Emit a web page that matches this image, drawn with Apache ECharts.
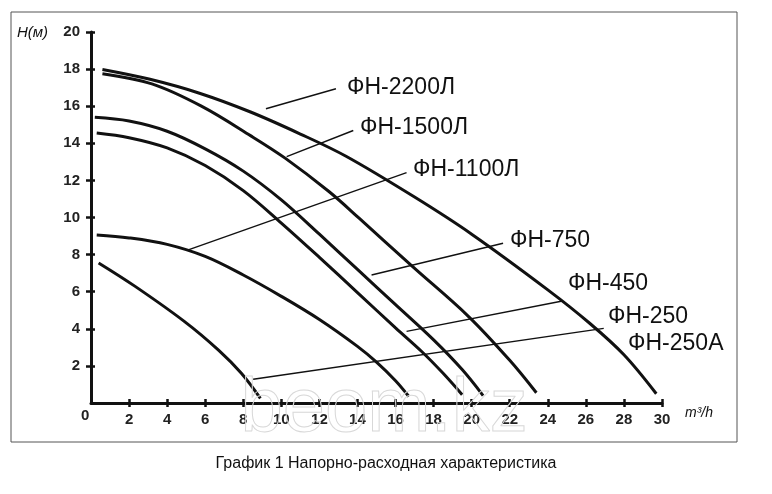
<!DOCTYPE html>
<html><head><meta charset="utf-8">
<script src="https://cdn.jsdelivr.net/npm/echarts@6/dist/echarts.min.js"></script>
<style>html,body{margin:0;padding:0;background:#fff}#c{width:772px;height:494px}</style>
</head><body><div id="c"></div>
<script>
// Pump curves: [flow m3/h, head m]
const curveFH2200 = [[0.6,17.98],[3.1,17.45],[5.7,16.7],[8.35,15.7],[11,14.5],[13.4,13.3],[17,11.1],[20,9.1],[24,6.1],[26.2,4.3],[28,2.6],[29.7,0.5]];
const curveFH1500 = [[0.6,17.75],[3.2,17.2],[5.8,16.0],[8.4,14.4],[10.2,13.2],[12.5,11.4],[14.1,9.95],[16.9,7.35],[19.8,4.7],[22,2.3],[23.4,0.55]];
const curveFH1100 = [[0.2,15.4],[2,15.2],[4,14.65],[6,13.7],[8,12.5],[10,10.95],[12,9.1],[14,7.2],[16,5.3],[18,3.4],[19.5,1.8],[20.6,0.4]];
const curveFH750 = [[0.3,14.55],[2,14.3],[4,13.75],[6,12.8],[8,11.45],[10,9.7],[12,7.85],[14,5.95],[16,4.05],[17.4,2.75],[18.5,1.6],[19.5,0.45]];
const curveFH450 = [[0.3,9.06],[2,8.9],[4,8.55],[6,7.9],[8,6.9],[10,5.75],[12,4.5],[14,3.05],[15,2.2],[16,1.2],[16.7,0.35]];
const curveFH250 = [[0.4,7.55],[2.3,6.3],[4.9,4.4],[6.7,2.85],[7.9,1.6],[8.9,0.25]];

// Leader lines (from curve to label), [flow, head]
const leader2200 = [[9.19,15.86],[12.87,16.94]];
const leader1500 = [[10.28,13.28],[13.78,14.69]];
const leader1100 = [[5.11,8.25],[16.58,12.42]];
const leader750 = [[14.74,6.9],[21.65,8.61]];
const leader450 = [[16.58,3.86],[24.77,5.5]];
const leader250 = [[8.52,1.28],[26.94,4.02]];

const labelNames = ['ФН-2200Л','ФН-1500Л','ФН-1100Л','ФН-750','ФН-450','ФН-250','ФН-250A'];
const xTicks = [0,2,4,6,8,10,12,14,16,18,20,22,24,26,28,30];
const yTicks = [0,2,4,6,8,10,12,14,16,18,20];

const chart = echarts.init(document.getElementById('c'), null, {renderer:'canvas'});
const F = '"Liberation Sans", Arial, sans-serif';
const curves = [curveFH2200,curveFH1500,curveFH1100,curveFH750,curveFH450,curveFH250];
const leaders = [leader2200,leader1500,leader1100,leader750,leader450,leader250];
const series = [];
curves.forEach((d,i)=>series.push({type:'line',name:labelNames[i],data:d,smooth:0.35,symbol:'none',
  lineStyle:{color:'#111',width:3},z:3,silent:true}));
leaders.forEach((d,i)=>series.push({type:'line',name:'leader'+i,data:d,symbol:'none',
  lineStyle:{color:'#111',width:1.4},z:2,silent:true}));

const grid = {left:91,top:32,width:571,height:371};
const labelText = (txt,x,y,size)=>({type:'text',left:x,top:y,style:{text:txt,font:'normal '+size+'px '+F,fill:'#111'}});
chart.setOption({
  animation:false,
  backgroundColor:'#fff',
  grid:grid,
  xAxis:[{type:'value',min:xTicks[0],max:xTicks[xTicks.length-1],interval:2,position:'bottom',
    axisLine:{show:true,onZero:false,lineStyle:{color:'#111',width:3}},
    axisTick:{show:true,inside:false,length:4,lineStyle:{color:'#111',width:2.5}},
    axisLabel:{show:true,margin:9,showMinLabel:false,color:'#222',fontFamily:F,fontSize:15,fontWeight:'bold'},
    splitLine:{show:false}},
   {type:'value',min:xTicks[0],max:xTicks[xTicks.length-1],interval:2,position:'bottom',
    axisLine:{show:false},axisTick:{show:true,inside:true,length:4,lineStyle:{color:'#111',width:2.5}},
    axisLabel:{show:false},splitLine:{show:false}}],
  yAxis:[{type:'value',min:yTicks[0],max:yTicks[yTicks.length-1],interval:2,position:'left',
    axisLine:{show:true,onZero:false,lineStyle:{color:'#111',width:3}},
    axisTick:{show:true,inside:false,length:5,lineStyle:{color:'#111',width:2.5}},
    axisLabel:{show:true,margin:11,showMinLabel:false,color:'#222',fontFamily:F,fontSize:15,fontWeight:'bold'},
    splitLine:{show:false}},
   {type:'value',min:yTicks[0],max:yTicks[yTicks.length-1],interval:2,position:'left',
    axisLine:{show:false},axisTick:{show:true,inside:true,length:4,lineStyle:{color:'#111',width:2.5}},
    axisLabel:{show:false},splitLine:{show:false}}],
  series:series,
  graphic:[
    {type:'rect',shape:{x:11,y:12,width:726,height:430},style:{fill:'none',stroke:'#555',lineWidth:1},z:-1,silent:true},
    {type:'text',left:240,top:372,z:10,style:{text:'beom.kz',font:'normal 76px '+F,fill:'rgba(255,255,255,0)',stroke:'#d8d8d8',lineWidth:1}},
    labelText(labelNames[0],347,76,23),
    labelText(labelNames[1],360,116,23),
    labelText(labelNames[2],413,158,23),
    labelText(labelNames[3],510,229,23),
    labelText(labelNames[4],568,272,23),
    labelText(labelNames[5],608,305,23),
    labelText(labelNames[6],628,332,23),
    {type:'text',left:17,top:25,style:{text:'H(м)',font:'italic 15px '+F,fill:'#111'}},
    {type:'text',left:81,top:408,style:{text:String(xTicks[0]),font:'bold 15px '+F,fill:'#222'}},
    {type:'text',left:685,top:406,style:{text:'m³/h',font:'italic 14px '+F,fill:'#111'}},
    {type:'text',left:'center',top:456,style:{text:'График 1 Напорно-расходная характеристика',font:'normal 16px '+F,fill:'#111'}}
  ]
});
</script></body></html>
